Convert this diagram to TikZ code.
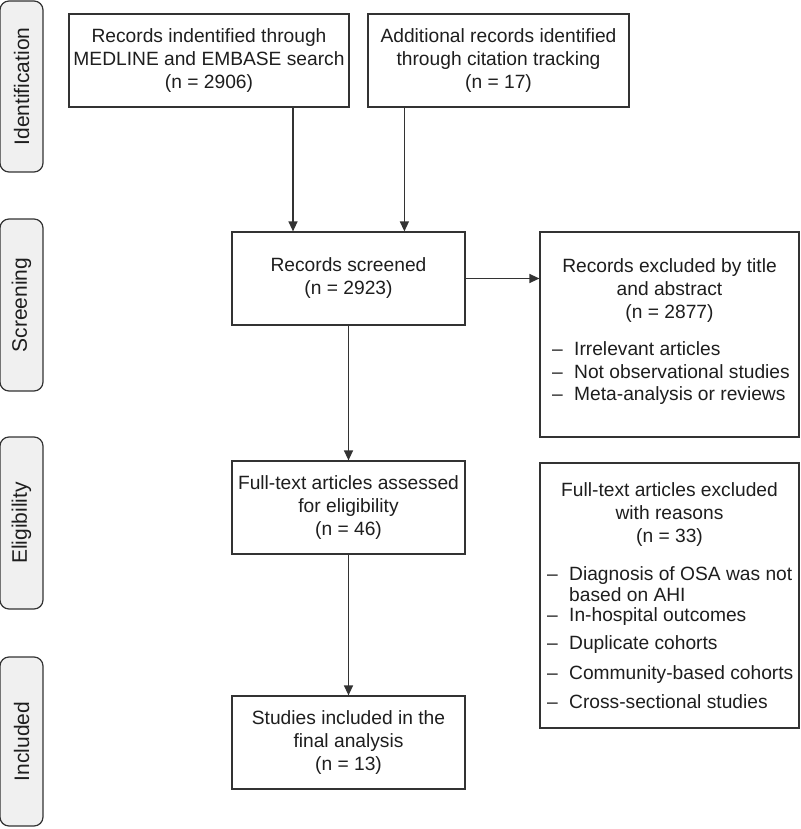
\documentclass[tikz,border=0pt]{standalone}
\usepackage{fontspec}
\setmainfont{Liberation Sans}
\usetikzlibrary{arrows.meta}
\definecolor{ln}{HTML}{333333}
\definecolor{tx}{HTML}{1E1E1E}
\definecolor{labfill}{HTML}{F0F0F0}
\begin{document}
\begin{tikzpicture}[x=1pt,y=-1pt,
  every node/.style={text=tx},
  box/.style={draw=ln, line width=1.2pt, fill=white, inner sep=0pt},
  side/.style={draw=ln, line width=1.2pt, fill=labfill, rounded corners=9pt, rotate=90,
    minimum height=43pt, inner sep=0pt, font=\fontsize{21}{25}\selectfont},
  ctext/.style={align=center, inner sep=0pt, font=\fontsize{19.2}{23}\selectfont},
  itm/.style={anchor=base west, inner sep=0pt, font=\fontsize{19.2}{23}\selectfont},
  arr/.style={draw=ln, line width=1.3pt, -{Triangle[length=10pt,width=9pt]}}]
\useasboundingbox (0,0) rectangle (800,829);

% phase labels
\node[side, minimum width=171pt] (sId) at (21.5,86.5) {Identification};
\node[side, minimum width=172pt] (sSc) at (21.5,305) {Screening};
\node[side, minimum width=172pt] (sEl) at (21.5,523) {Eligibility};
\node[side, minimum width=169pt] (sIn) at (21.5,741.5) {Included};

% boxes
\node[box, minimum width=280pt, minimum height=93pt] (b1) at (209,60.5) {};
\node[ctext] (t1) at (b1) {Records indentified through\\MEDLINE and EMBASE search\\(n = 2906)};
\node[box, minimum width=261pt, minimum height=93pt] (b2) at (498.5,60.5) {};
\node[ctext] (t2) at (b2) {Additional records identified\\through citation tracking\\(n = 17)};
\node[box, minimum width=233pt, minimum height=93pt] (b3) at (348.5,278.5) {};
\node[ctext] (t3) at (b3) {Records screened\\(n = 2923)};
\node[box, minimum width=259pt, minimum height=205pt] (b4) at (669.5,334.5) {};
\node[ctext] (t4) at (669.5,291) {Records excluded by title\\and abstract\\(n = 2877)};
\node[itm] (l41) at (552,355) {\makebox[22pt][l]{–}Irrelevant articles};
\node[itm] (l42) at (552,378) {\makebox[22pt][l]{–}Not observational studies};
\node[itm] (l43) at (552,400) {\makebox[22pt][l]{–}Meta-analysis or reviews};
\node[box, minimum width=233pt, minimum height=93pt] (b5) at (348.5,507.5) {};
\node[ctext] (t5) at (b5) {Full-text articles assessed\\for eligibility\\(n = 46)};
\node[box, minimum width=259pt, minimum height=265pt] (b6) at (669.5,595.5) {};
\node[ctext] (t6) at (669.5,515) {Full-text articles excluded\\with reasons\\(n = 33)};
\node[itm] (l61) at (547,580) {\makebox[22pt][l]{–}Diagnosis of OSA was not};
\node[itm, text depth=0pt] (l62) at (569,601.5) {based on AHI};
\node[itm, text height=13.5pt] (l63) at (547,621.5) {\makebox[22pt][l]{–}In-hospital outcomes};
\node[itm] (l64) at (547,649) {\makebox[22pt][l]{–}Duplicate cohorts};
\node[itm] (l65) at (547,679) {\makebox[22pt][l]{–}Community-based cohorts};
\node[itm] (l66) at (547,708) {\makebox[22pt][l]{–}Cross-sectional studies};
\node[box, minimum width=233pt, minimum height=93pt] (b7) at (348.5,742.5) {};
\node[ctext] (t7) at (b7) {Studies included in the\\final analysis\\(n = 13)};

% connectors
\draw[arr] ([xshift=84pt]b1.south) -- ([xshift=84pt]b1.south |- b3.north);
\draw[arr] ([xshift=37pt]b2.south west) -- ([xshift=37pt]b2.south west |- b3.north);
\draw[arr] (b3.east) -- (b3.east -| b4.west);
\draw[arr] (b3.south) -- (b5.north);
\draw[arr] (b5.south) -- (b7.north);
\end{tikzpicture}
\end{document}
